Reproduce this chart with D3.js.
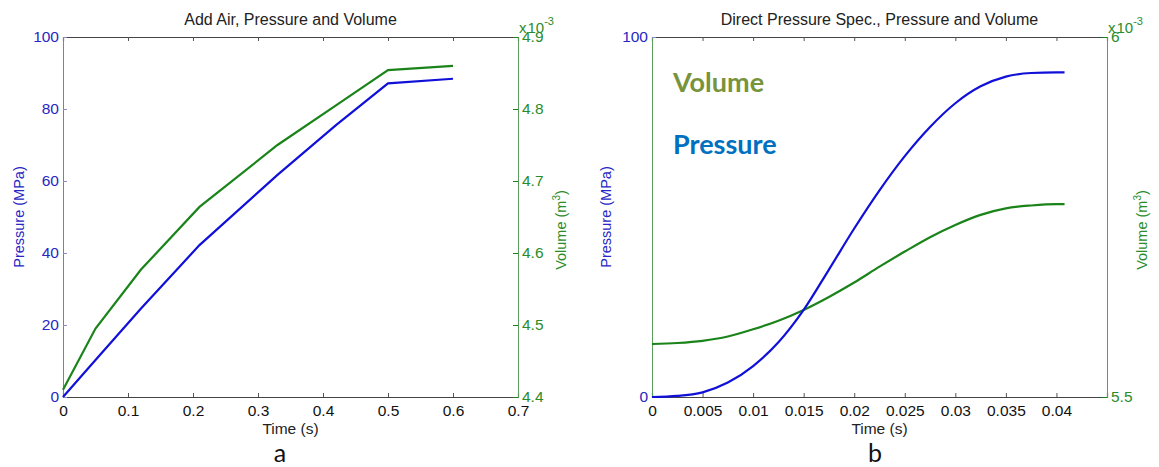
<!DOCTYPE html>
<html>
<head>
<meta charset="utf-8">
<script src="https://cdn.jsdelivr.net/npm/d3@7"></script>
<style>
  body { margin: 0; background: #fff; }
  svg { display: block; font-family: "Liberation Sans", Arial, sans-serif; }
</style>
</head>
<body>
<script>
// panel a : Add Air
var timeA = [0, 0.05, 0.12, 0.21, 0.33, 0.42, 0.5, 0.6];
var pressureA = [0, 10.3, 24.6, 42.2, 61.7, 75.5, 87.1, 88.4];
var volumeA = [4.41, 4.495, 4.577, 4.664, 4.75, 4.805, 4.854, 4.86]; // x 10^-3 m3
var xTicksA = [0, 0.1, 0.2, 0.3, 0.4, 0.5, 0.6, 0.7];
var pTicksA = [0, 20, 40, 60, 80, 100];
var vTicksA = [4.4, 4.5, 4.6, 4.7, 4.8, 4.9];

// panel b : Direct Pressure Spec.
var timeB = [0, 0.0025, 0.005, 0.0075, 0.01, 0.0125, 0.015, 0.0175, 0.02, 0.0225,
             0.025, 0.0275, 0.03, 0.0325, 0.035, 0.0375, 0.04, 0.0408];
var pressureB = [0, 0.3, 1.3, 4.0, 8.6, 15.2, 24.2, 35.4, 46.8, 57.4,
                 66.9, 75.0, 81.6, 86.3, 89.0, 90.0, 90.2, 90.2];
var volumeB = [5.5736, 5.575, 5.578, 5.584, 5.594, 5.606, 5.621, 5.639, 5.659, 5.681,
               5.702, 5.722, 5.739, 5.753, 5.762, 5.766, 5.768, 5.768];
var xTicksB = [0, 0.005, 0.01, 0.015, 0.02, 0.025, 0.03, 0.035, 0.04];
var pTicksB = [0, 100];
var vTicksB = [5.5, 6];

var BLUE = "#1010d8", GREEN = "#1a841a";
var BLUE_TXT = "#2727c4", GREEN_TXT = "#2a8c2a";

var svg = d3.select("body").append("svg")
  .attr("width", 1159)
  .attr("height", 467);

function fmt(v) { return String(+v.toFixed(4)); }

function drawPanel(p) {
  var x = d3.scaleLinear().domain(p.xDomain).range([p.left, p.right]);
  var yP = d3.scaleLinear().domain([0, 100]).range([p.bottom, p.top]);
  var yV = d3.scaleLinear().domain(p.vDomain).range([p.bottom, p.top]);
  var g = svg.append("g");

  // bottom & top axes (ticks inward)
  var bottom = g.append("g").attr("transform", "translate(0," + p.bottom + ")")
    .call(d3.axisBottom(x).tickValues(p.xTicks).tickSize(-4).tickPadding(8).tickFormat(fmt));
  var top = g.append("g").attr("transform", "translate(0," + p.top + ")")
    .call(d3.axisTop(x).tickValues(p.xTicks).tickSize(-4).tickFormat(""));
  [bottom, top].forEach(function(a) {
    a.select(".domain").attr("stroke", "#444").attr("stroke-width", 1.2);
    a.selectAll(".tick line").attr("stroke", "#555");
  });
  bottom.selectAll(".tick text").attr("fill", "#111").style("font-size", "15.5px");

  // left pressure axis
  var left = g.append("g").attr("transform", "translate(" + p.left + ",0)")
    .call(d3.axisLeft(yP).tickValues(p.pTicks).tickSize(-4).tickPadding(4));
  left.select(".domain").attr("stroke", "#5c9c5c");
  left.selectAll(".tick line").attr("stroke", "#8a8ad0");
  left.selectAll(".tick text").attr("fill", BLUE_TXT).style("font-size", "15.5px");

  // right volume axis
  var right = g.append("g").attr("transform", "translate(" + p.right + ",0)")
    .call(d3.axisRight(yV).tickValues(p.vTicks).tickSize(-5).tickPadding(4).tickFormat(fmt));
  right.select(".domain").attr("stroke", "#5c9c5c");
  right.selectAll(".tick line").attr("stroke", GREEN);
  right.selectAll(".tick text").attr("fill", GREEN_TXT).style("font-size", "15.5px");
  g.selectAll(".tick text").attr("font-family", null);

  // exponent note (sits over the top tick label, as in the original)
  var ex = g.append("text").attr("x", p.right + 1).attr("y", 33)
    .attr("fill", GREEN_TXT).style("font-size", "15px");
  ex.append("tspan").text("x");
  ex.append("tspan").attr("dx", 1).text("10");
  ex.append("tspan").attr("dy", -8).style("font-size", "11px").text("-3");

  // lines
  var lineP = d3.line().x(function(d) { return x(d[0]); }).y(function(d) { return yP(d[1]); });
  var lineV = d3.line().x(function(d) { return x(d[0]); }).y(function(d) { return yV(d[1]); });
  if (p.smooth) { lineP.curve(d3.curveMonotoneX); lineV.curve(d3.curveMonotoneX); }
  g.append("path").datum(d3.zip(p.time, p.volume)).attr("d", lineV)
    .attr("fill", "none").attr("stroke", GREEN).attr("stroke-width", 2.2);
  g.append("path").datum(d3.zip(p.time, p.pressure)).attr("d", lineP)
    .attr("fill", "none").attr("stroke", BLUE).attr("stroke-width", 2.2);

  // titles and labels
  var cx = (p.left + p.right) / 2;
  g.append("text").attr("x", cx).attr("y", 25).attr("text-anchor", "middle")
    .attr("fill", "#222").style("font-size", "16px").text(p.title);
  g.append("text").attr("x", cx).attr("y", 434).attr("text-anchor", "middle")
    .attr("fill", "#222").style("font-size", "15.5px").text("Time (s)");
  g.append("text").attr("transform", "translate(" + p.yLabelL + ",217) rotate(-90)")
    .attr("text-anchor", "middle").attr("dy", "0.35em")
    .attr("fill", BLUE_TXT).style("font-size", "14.5px").text("Pressure (MPa)");
  var vl = g.append("text").attr("transform", "translate(" + p.yLabelR + ",230) rotate(-90)")
    .attr("text-anchor", "middle").attr("dy", "0.35em")
    .attr("fill", GREEN_TXT).style("font-size", "14.5px");
  vl.append("tspan").text("Volume (m");
  vl.append("tspan").attr("dy", -6).style("font-size", "10px").text("3");
  vl.append("tspan").attr("dy", 6).text(")");

  g.append("text").attr("x", p.tagX).attr("y", 462).attr("text-anchor", "middle")
    .attr("fill", "#111").style("font-family", "Lato, 'Open Sans', sans-serif")
    .style("font-size", "25px").text(p.tag);
}

drawPanel({
  left: 63, right: 518, top: 37, bottom: 397,
  xDomain: [0, 0.7], vDomain: [4.4, 4.9],
  xTicks: xTicksA, pTicks: pTicksA, vTicks: vTicksA,
  time: timeA, pressure: pressureA, volume: volumeA,
  title: "Add Air, Pressure and Volume", tag: "a", tagX: 280,
  yLabelL: 19, yLabelR: 561, smooth: false
});

drawPanel({
  left: 652, right: 1107, top: 37, bottom: 397,
  xDomain: [0, 0.045], vDomain: [5.5, 6],
  xTicks: xTicksB, pTicks: pTicksB, vTicks: vTicksB,
  time: timeB, pressure: pressureB, volume: volumeB,
  title: "Direct Pressure Spec., Pressure and Volume", tag: "b", tagX: 875,
  yLabelL: 606, yLabelR: 1142, smooth: true
});

// annotations inside panel b
svg.append("text").attr("x", 673).attr("y", 92)
  .attr("fill", "#77933c").style("font-family", "Lato, 'Open Sans', sans-serif")
  .style("font-weight", "bold").style("font-size", "27px").text("Volume");
svg.append("text").attr("x", 673).attr("y", 154)
  .attr("fill", "#0070c0").style("font-family", "Lato, 'Open Sans', sans-serif")
  .style("font-weight", "bold").style("font-size", "27px").text("Pressure");
</script>
</body>
</html>
